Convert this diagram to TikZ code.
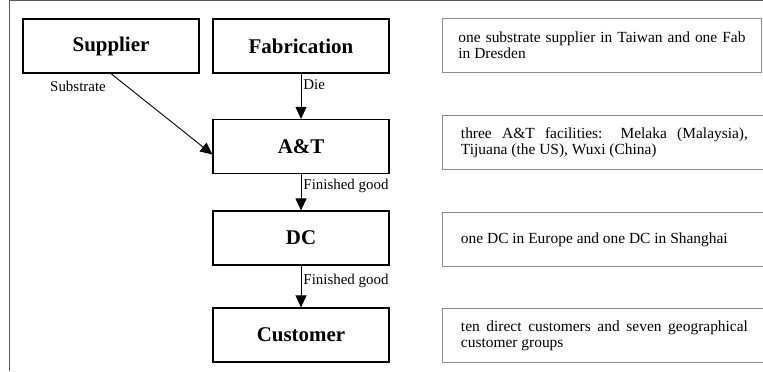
\documentclass[tikz,border=0pt]{standalone}
\usepackage{fontspec}
\setmainfont{Liberation Serif}
\usetikzlibrary{arrows.meta}
\newcommand\myNoHyph{\hyphenpenalty=10000\relax\exhyphenpenalty=10000\relax}
\tikzset{
  flowbox/.style={draw=black, line width=1.2bp, fill=white, minimum width=176bp, minimum height=54bp, inner sep=0pt, font=\fontsize{21}{25}\selectfont\bfseries},
  descbox/.style={draw=black!45, line width=0.9bp, fill=white, minimum height=54bp, inner xsep=16bp, inner ysep=0pt, text width=287bp, align=justify, font=\fontsize{15.5}{16}\selectfont\myNoHyph},
  flowarrow/.style={line width=0.9bp, -{Triangle[length=12bp,width=11bp]}},
  lbl/.style={font=\fontsize{15}{17}\selectfont, inner sep=2bp},
  frame/.style={draw=black!65, line width=1bp}
}
\begin{document}
\begin{tikzpicture}[x=1bp,y=-1bp]
\useasboundingbox (0,0) rectangle (763,371);
% outer frame
\coordinate (ftl) at (9,0.6);
\coordinate (fbl) at (9,371);
\coordinate (ftr) at (763,0.6);
\draw[frame] (fbl) -- (ftl) -- (ftr);
% flow boxes
\node[flowbox] (sup) at (111,46) {Supplier};
\node[flowbox] (fab) at (301,46) {Fabrication};
\node[flowbox] (at)  at (301,146.5) {A\&T};
\node[flowbox] (dc)  at (301,238) {DC};
\node[flowbox] (cus) at (301,335) {Customer};
% arrows
\draw[flowarrow] (sup.south) -- ([yshift=-8bp]at.west);
\node[lbl] (lsub) at (78,86) {Substrate};
\draw[flowarrow] (fab.south) -- node[lbl, pos=0.25, anchor=west] (ldie) {Die} (at.north);
\draw[flowarrow] (at.south) -- node[lbl, pos=0.33, anchor=west] (lfg1) {Finished good} (dc.north);
\draw[flowarrow] (dc.south) -- node[lbl, pos=0.37, anchor=west] (lfg2) {Finished good} (cus.north);
% description boxes
\node[descbox, anchor=north west, minimum width=319bp] (d1) at (442,18) {one substrate supplier in Taiwan and one Fab in Dresden};
\node[descbox, anchor=north west, minimum width=324bp] (d2) at (442,115) {three A\&T facilities: Melaka (Malaysia), Tijuana (the US), Wuxi (China)};
\node[descbox, anchor=north west, minimum width=324bp] (d3) at (442,212) {one DC in Europe and one DC in Shanghai};
\node[descbox, anchor=north west, minimum width=324bp] (d4) at (442,308) {ten direct customers and seven geographical customer groups};
\end{tikzpicture}
\end{document}
